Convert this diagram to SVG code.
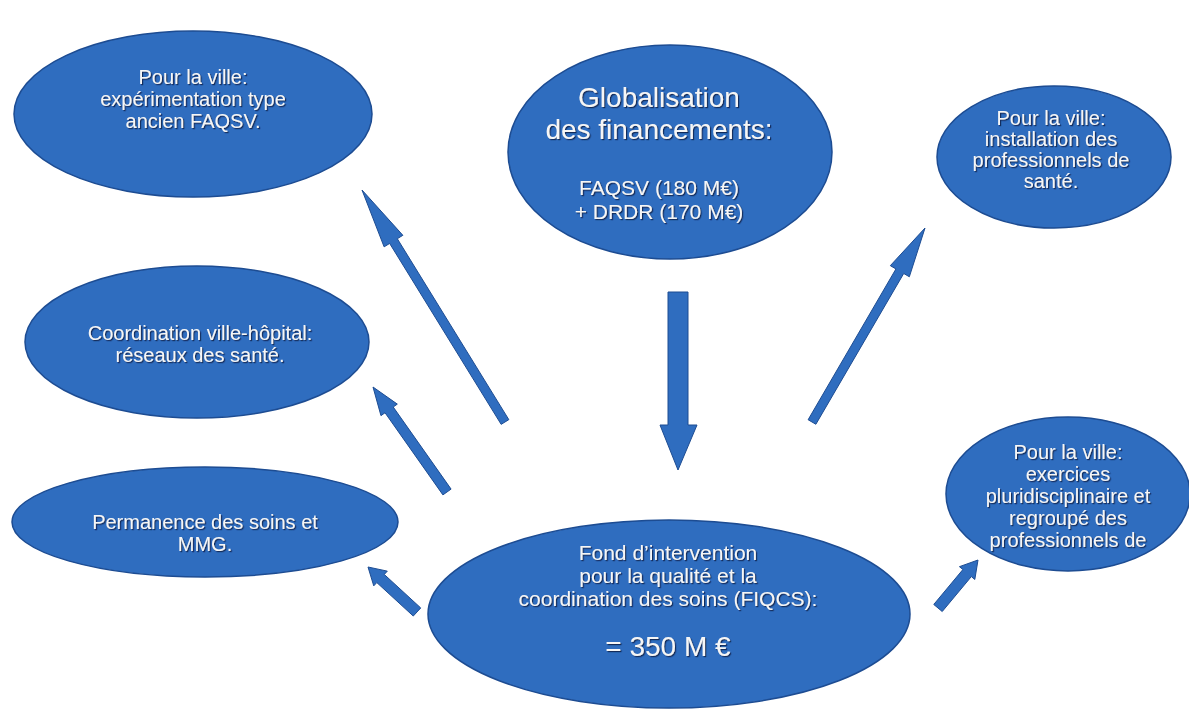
<svg xmlns="http://www.w3.org/2000/svg" width="1189" height="710" viewBox="0 0 1189 710">
  <defs>
    <filter id="ts" x="-10%" y="-30%" width="120%" height="160%">
      <feDropShadow dx="1.2" dy="1.2" stdDeviation="0.6" flood-color="#0b2347" flood-opacity="0.85"/>
    </filter>
    <style>
      .node ellipse { fill: #2f6dbf; stroke: #1d4c92; stroke-width: 1.5; }
      .conn polygon { fill: #2f6dbf; stroke: #1d4c92; stroke-width: 1; stroke-linejoin: miter; }
      text { font-family: "Liberation Sans", Arial, sans-serif; fill: #f6f6f6; text-anchor: middle; filter: url(#ts); }
      .s20 { font-size: 20px; }
      .s21 { font-size: 21px; }
      .s28 { font-size: 28px; }
    </style>
  </defs>
  <rect width="1189" height="710" fill="#ffffff"/>

  <g id="connectors" class="conn">
    <!-- central down arrow -->
    <polygon points="668,292 688,292 688,425 697,425 678,470 660,425 668,425"/>
    <!-- to top-left -->
    <polygon points="508.83,419.64 397.32,238.72 402.86,235.31 362,190 384.12,246.85 389.66,243.44 501.17,424.36"/>
    <!-- to top-right -->
    <polygon points="815.89,424.26 903.72,273.47 909.34,276.75 925,228 890.32,265.67 895.94,268.95 808.11,419.74"/>
    <!-- to coordination -->
    <polygon points="451.09,489.12 393.22,407.00 397.30,404.12 373,387 380.96,415.64 385.04,412.76 442.91,494.88"/>
    <!-- to permanence -->
    <polygon points="420.72,607.95 384.25,574.45 387.30,571.13 368,567 373.76,585.87 376.81,582.55 413.28,616.05"/>
    <!-- to bottom-right -->
    <polygon points="942.22,611.52 971.34,576.58 974.80,579.46 978,560 959.44,566.66 962.90,569.54 933.78,604.48"/>
  </g>

  <g id="node-experimentation" class="node">
    <ellipse cx="193" cy="114" rx="179" ry="83"/>
    <text class="s20" x="193" y="84">Pour la ville:</text>
    <text class="s20" x="193" y="106">expérimentation type</text>
    <text class="s20" x="193" y="128">ancien FAQSV.</text>
  </g>

  <g id="node-globalisation" class="node">
    <ellipse cx="670" cy="152" rx="162" ry="107"/>
    <text class="s28" x="659" y="107">Globalisation</text>
    <text class="s28" x="659" y="139">des financements:</text>
    <text class="s21" x="659" y="195">FAQSV (180 M€)</text>
    <text class="s21" x="659" y="219">+ DRDR (170 M€)</text>
  </g>

  <g id="node-installation" class="node">
    <ellipse cx="1054" cy="157" rx="117" ry="71"/>
    <text class="s20" x="1051" y="125">Pour la ville:</text>
    <text class="s20" x="1051" y="146">installation des</text>
    <text class="s20" x="1051" y="167">professionnels de</text>
    <text class="s20" x="1051" y="188">santé.</text>
  </g>

  <g id="node-coordination" class="node">
    <ellipse cx="197" cy="342" rx="172" ry="76"/>
    <text class="s20" x="200" y="340">Coordination ville-hôpital:</text>
    <text class="s20" x="200" y="362">réseaux des santé.</text>
  </g>

  <g id="node-permanence" class="node">
    <ellipse cx="205" cy="522" rx="193" ry="55"/>
    <text class="s20" x="205" y="529">Permanence des soins et</text>
    <text class="s20" x="205" y="551">MMG.</text>
  </g>

  <g id="node-fiqcs" class="node">
    <ellipse cx="669" cy="614" rx="241" ry="94"/>
    <text class="s21" x="668" y="560">Fond d’intervention</text>
    <text class="s21" x="668" y="583">pour la qualité et la</text>
    <text class="s21" x="668" y="606">coordination des soins (FIQCS):</text>
    <text class="s28" x="668" y="656">= 350 M €</text>
  </g>

  <g id="node-exercices" class="node">
    <ellipse cx="1068" cy="494" rx="122" ry="77"/>
    <text class="s20" x="1068" y="459">Pour la ville:</text>
    <text class="s20" x="1068" y="481">exercices</text>
    <text class="s20" x="1068" y="503">pluridisciplinaire et</text>
    <text class="s20" x="1068" y="525">regroupé des</text>
    <text class="s20" x="1068" y="547">professionnels de</text>
  </g>
</svg>
